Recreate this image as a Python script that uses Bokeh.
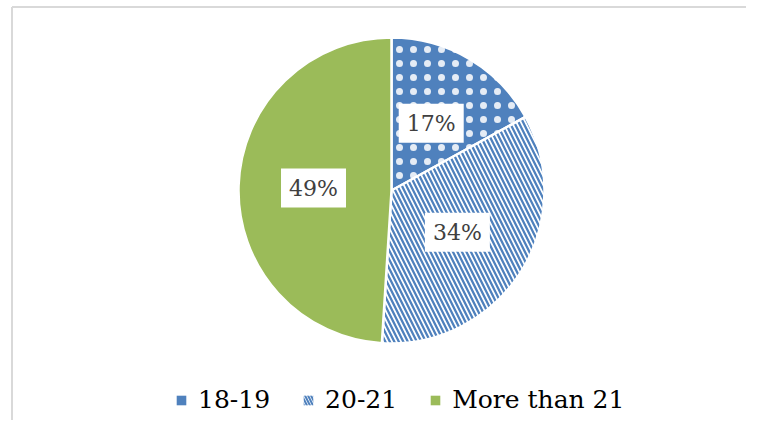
import math
from bokeh.plotting import figure
from bokeh.models import Range1d, ColumnDataSource, Legend, LegendItem
from bokeh.core.properties import value
from bokeh.embed import file_html
from bokeh.resources import INLINE

# ---- data ----
categories = ["18-19", "20-21", "More than 21"]
shares = [17, 34, 49]
labels = ["17%", "34%", "49%"]

BLUE = "#4F81BD"
GREEN = "#9BBB59"
SERIF = "DejaVu Serif"

W, H = 746, 420
p = figure(width=W, height=H, output_backend="svg", toolbar_location=None,
           x_range=Range1d(0, W), y_range=Range1d(0, H), min_border=0)
p.axis.visible = False
p.grid.visible = False
p.outline_line_color = None
p.background_fill_color = "white"
p.border_fill_color = "white"

def py(pic_y):
    return H - pic_y

# border frame (light gray) like the reference
p.line(x=[11.5, 11.5], y=[py(440), py(6.5)], line_color="#d9d9d9", line_width=2)
p.line(x=[11.5, 760], y=[py(6.5), py(6.5)], line_color="#d9d9d9", line_width=2)

cx, cy, R = 391, py(190), 153
total = float(sum(shares))
starts, ends, mids = [], [], []
acc = 0.0
for s in shares:
    a0 = math.pi / 2 - acc / total * 2 * math.pi
    acc += s
    a1 = math.pi / 2 - acc / total * 2 * math.pi
    starts.append(a0)
    ends.append(a1)
    mids.append((a0 + a1) / 2)

styles = [
    dict(fill_color=BLUE, hatch_pattern="dot", hatch_color="white", hatch_scale=14,
         hatch_weight=1, hatch_alpha=0.85),
    dict(fill_color="white", hatch_pattern="\\", hatch_color=BLUE, hatch_scale=9, hatch_weight=2.3),
    dict(fill_color=GREEN),
]
for i in range(len(shares)):
    p.wedge(x=cx, y=cy, radius=R, radius_units="screen",
            start_angle=starts[i], end_angle=ends[i], direction="clock",
            line_color="white", line_width=2.5, **styles[i])

lr = 0.51 * R
lx = [cx + lr * math.cos(a) for a in mids]
ly = [cy + lr * math.sin(a) for a in mids]
src = ColumnDataSource(dict(x=lx, y=ly, t=labels))
p.rect(x="x", y="y", width=65, height=39, width_units="screen", height_units="screen",
       source=src, fill_color="white", line_color=None)
p.text(x="x", y="y", text="t", source=src, text_align="center", text_baseline="middle",
       text_font=value(SERIF), text_font_size="22px", text_color="#404040")

# legend proxies (square swatches)
legend_styles = [
    dict(fill_color=BLUE),
    dict(fill_color="white", hatch_pattern="\\", hatch_color=BLUE, hatch_scale=6, hatch_weight=2),
    dict(fill_color=GREEN),
]
proxies = [p.rect(x=[float("nan")], y=[float("nan")], width=1, height=1, line_color=None,
                  **legend_styles[i]) for i in range(3)]

legend = Legend(items=[LegendItem(label=categories[i], renderers=[proxies[i]]) for i in range(3)],
                orientation="horizontal", location=(175, 6),
                label_text_font=SERIF, label_text_font_size="25px",
                label_text_color="#000000",
                glyph_width=12, glyph_height=12, label_standoff=11, spacing=32,
                padding=0, margin=0, border_line_color=None, background_fill_alpha=0)
p.add_layout(legend, "center")

open("out.html", "w").write(file_html(p, INLINE))
